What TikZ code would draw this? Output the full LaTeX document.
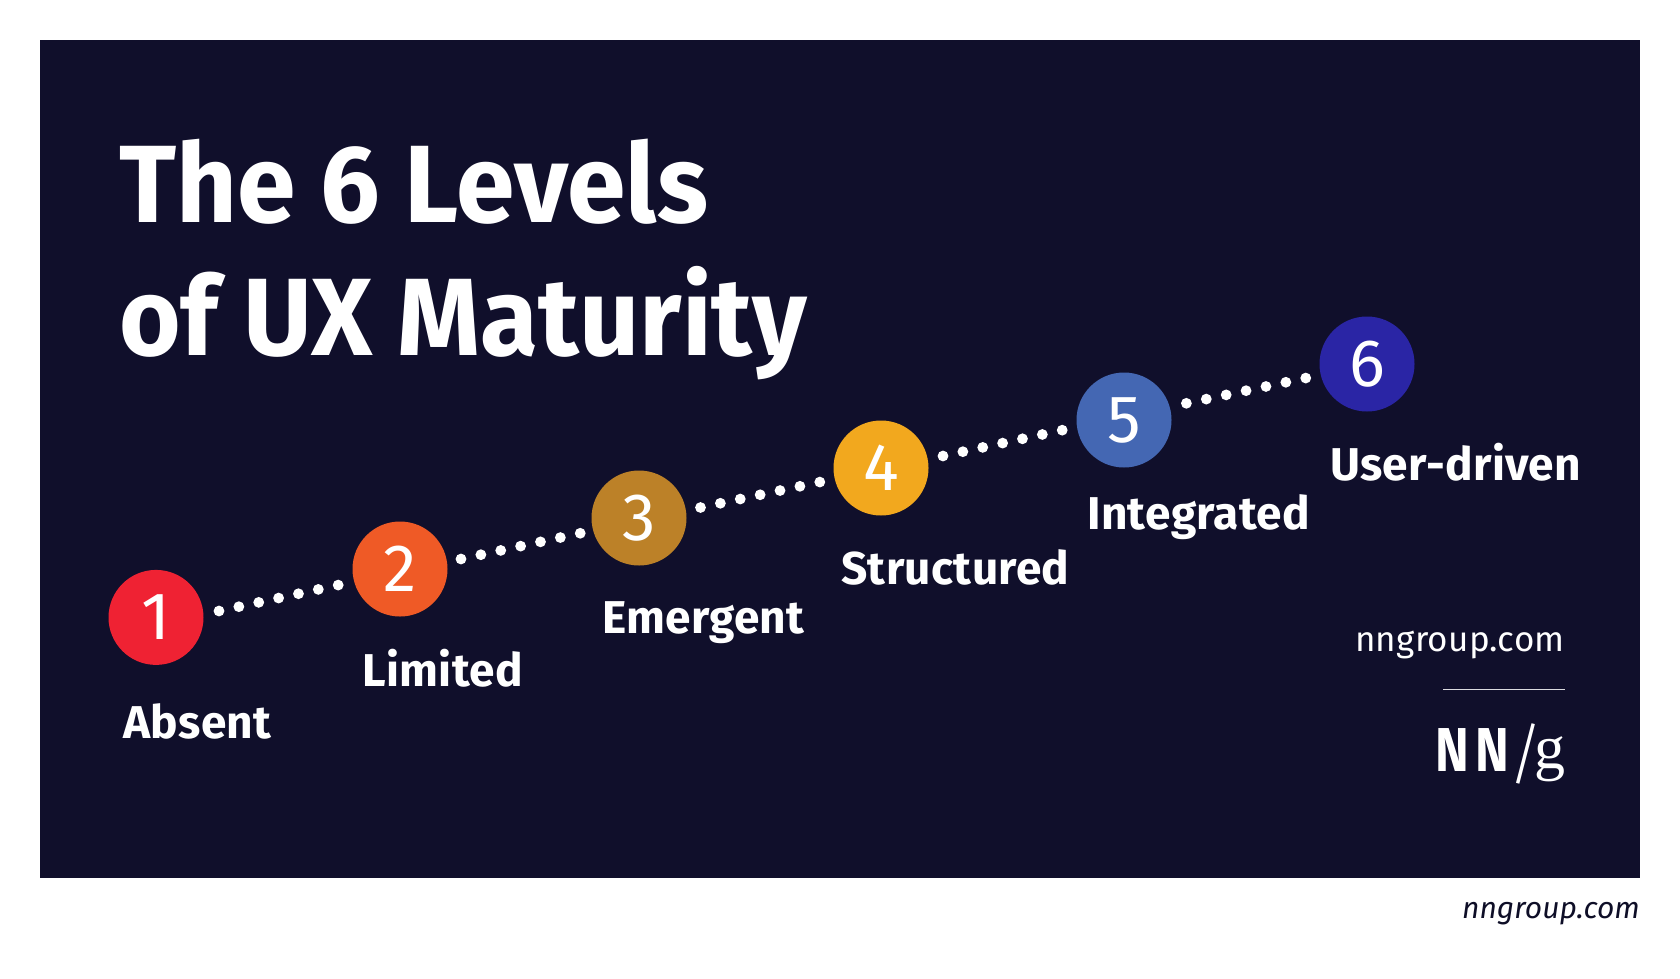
\documentclass[tikz,border=0pt]{standalone}
\usepackage{fontspec}
\usetikzlibrary{calc}
\setmainfont{Fira Sans}
\newfontfamily\firatitle[FakeStretch=0.96]{Fira Sans Bold}
\newfontfamily\firalabel[LetterSpace=0.8]{Fira Sans Bold}
\newfontfamily\firann[FakeStretch=0.82]{Fira Sans Bold}
\newfontfamily\firalight{Fira Sans Light}
\newfontfamily\firaurl[LetterSpace=0.6]{Fira Sans}
\newfontfamily\serifg{Liberation Serif}
\definecolor{bgnavy}{HTML}{100F2B}
\definecolor{lvlA}{HTML}{EF2233}
\definecolor{lvlB}{HTML}{EF5A26}
\definecolor{lvlC}{HTML}{BC8128}
\definecolor{lvlD}{HTML}{F2A81E}
\definecolor{lvlE}{HTML}{4467B3}
\definecolor{lvlF}{HTML}{2A25A5}
\tikzset{
  x=1pt,y=-1pt,
  level/.style={circle,fill=#1,minimum size=95pt,inner sep=0pt,text=white,font=\fontsize{67}{67}\selectfont},
  lab/.style={anchor=base west,inner sep=0pt,text=white,font=\firalabel\fontsize{46}{46}\selectfont},
  title/.style={anchor=base west,inner sep=0pt,text=white,font=\firatitle\fontsize{110}{110}\selectfont},
  dotline/.style={draw=white,line width=10.8pt,line cap=round,dash pattern=on 0pt off 20.33pt},
}
\begin{document}
\begin{tikzpicture}
\useasboundingbox (0,0) rectangle (1680,978);
\fill[white] (0,0) rectangle (1680,978);
\fill[bgnavy] (40,40) rectangle (1640,878);
\node[title] (t1) at (119,222) {The 6 Levels};
\node[title] (t2) at (119,355) {of UX Maturity};
\node[level=lvlA] (c1) at (156,617.4) {1};
\node[level=lvlB] (c2) at (400,569) {2};
\node[level=lvlC] (c3) at (639,518) {3};
\node[level=lvlD] (c4) at (881,468) {4};
\node[level=lvlE] (c5) at (1124,420) {5};
\node[level=lvlF] (c6) at (1367,364) {6};
\draw[dotline] ($(c1)+(63,-6.4)$) -- ($(c2)+(-61.5,16)$);
\draw[dotline] ($(c2)+(61,-10)$) -- ($(c3)+(-58.5,15.2)$);
\draw[dotline] ($(c3)+(61.5,-10.5)$) -- ($(c4)+(-61,14)$);
\draw[dotline] ($(c4)+(62,-12)$) -- ($(c5)+(-61,10)$);
\draw[dotline] ($(c5)+(62.4,-16.7)$) -- ($(c6)+(-61,14)$);
\node[lab] (l1) at (123,738) {Absent};
\node[lab] (l2) at (362,686) {Limited};
\node[lab] (l3) at (602,633.5) {Emergent};
\node[lab] (l4) at (841,584) {Structured};
\node[lab] (l5) at (1087,529.5) {Integrated};
\node[lab] (l6) at (1330,480) {User-driven};
\node[anchor=base east,inner sep=0pt,text=white,font=\firaurl\fontsize{35}{35}\selectfont] (w1) at (1565,651) {nngroup.com};
\coordinate (r1) at (1443,689);
\coordinate (r2) at (1565,689);
\draw[white!85!bgnavy,line width=1pt] (r1) -- (r2);
\node[anchor=base west,inner sep=0pt,text=white] (nn) at (1435,771) {\fontsize{62}{62}\selectfont\rlap{\firann N\kern7pt N}\hspace{73pt}\rlap{\raisebox{-6pt}{\firalight\fontsize{67}{67}\selectfont /}}\hspace{26pt}\raisebox{3pt}{\serifg g}};
\node[anchor=base east,inner sep=0pt,text=bgnavy!90!black,font=\itshape\fontsize{30}{30}\selectfont] (w2) at (1640,918) {nngroup.com};
\end{tikzpicture}
\end{document}
